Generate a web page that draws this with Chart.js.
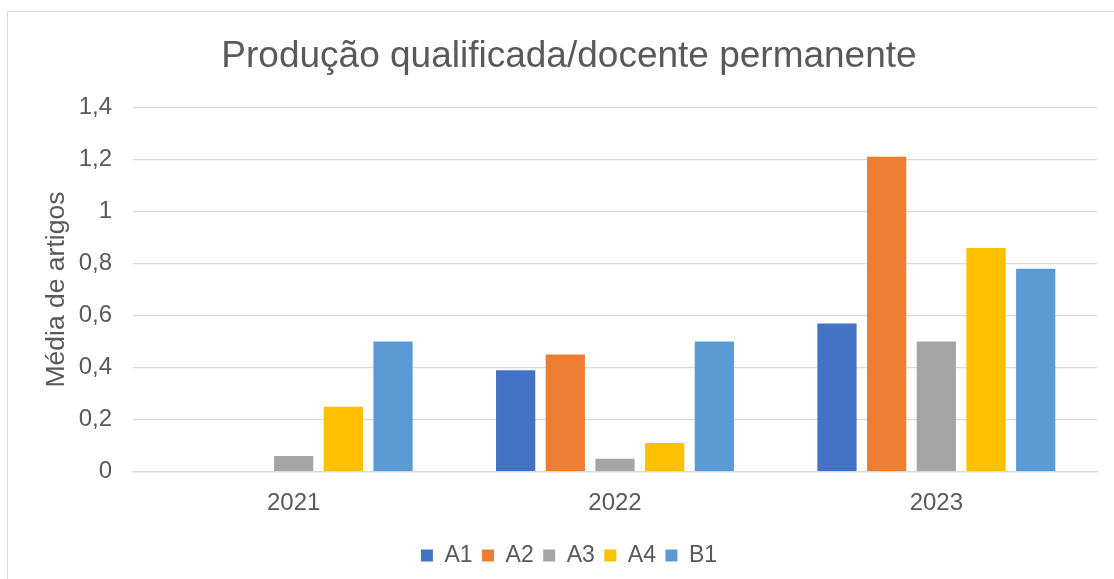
<!DOCTYPE html>
<html>
<head>
<meta charset="utf-8">
<script src="https://cdn.jsdelivr.net/npm/chart.js@4"></script>
<style>
    body { margin: 0; overflow: hidden; background: #fff; }
    #frame { position: absolute; left: 7px; top: 11px; width: 1130px; height: 600px; border: 1.5px solid #d9d9d9; }
    #chart { position: absolute; left: 0; top: 0; }
</style>
</head>
<body>
<div id="frame"></div>
<canvas id="chart" width="1114" height="579"></canvas>
<script>
// dados
var anos = ["2021", "2022", "2023"];
var A1 = [0, 0.39, 0.57];
var A2 = [0, 0.45, 1.21];
var A3 = [0.06, 0.05, 0.5];
var A4 = [0.25, 0.11, 0.86];
var B1 = [0.5, 0.5, 0.78];
var estratos = ["A1", "A2", "A3", "A4", "B1"];
var cores = ["#4472C4", "#ED7D31", "#A5A5A5", "#FFC000", "#5B9BD5"];

var fonte = "'Liberation Sans', Arial, sans-serif";
var cinza = "#595959";
var series = [A1, A2, A3, A4, B1];

var datasets = [];
for (var i = 0; i < estratos.length; i++) {
    datasets.push({
        label: estratos[i],
        data: series[i],
        backgroundColor: cores[i],
        borderWidth: 0,
        categoryPercentage: 0.773,
        barPercentage: 0.79
    });
}

var ctx = document.getElementById("chart").getContext('2d');
var grafico = new Chart(ctx, {
    type: 'bar',
    data: {
        labels: anos,
        datasets: datasets
    },
    options: {
        responsive: false,
        animation: false,
        layout: {
            padding: { left: 41, right: 17, top: 0, bottom: 2 }
        },
        plugins: {
            tooltip: { enabled: false },
            title: {
                display: true,
                text: 'Produção qualificada/docente permanente',
                color: cinza,
                font: { family: fonte, size: 37, weight: 'normal' },
                padding: { top: 35, bottom: 28 }
            },
            legend: {
                position: 'bottom',
                labels: {
                    color: cinza,
                    font: { family: fonte, size: 23 },
                    boxWidth: 12,
                    boxHeight: 12,
                    padding: 9.5
                }
            }
        },
        scales: {
            x: {
                grid: { display: false, drawTicks: false },
                border: { display: true, color: "#d9d9d9", width: 1.3 },
                ticks: {
                    color: cinza,
                    font: { family: fonte, size: 24 },
                    padding: 17
                }
            },
            y: {
                min: 0,
                max: 1.4,
                afterFit: function (scale) { scale.width = 92; },
                grid: { color: "#d9d9d9", lineWidth: 1.3, drawTicks: false },
                border: { display: false },
                ticks: {
                    stepSize: 0.2,
                    color: cinza,
                    font: { family: fonte, size: 24 },
                    padding: 21,
                    callback: function (v) {
                        return String(Math.round(v * 10) / 10).replace('.', ',');
                    }
                },
                title: {
                    display: true,
                    text: 'Média de artigos',
                    color: cinza,
                    font: { family: fonte, size: 26.5 },
                    padding: 0
                }
            }
        }
    }
});
</script>
</body>
</html>
